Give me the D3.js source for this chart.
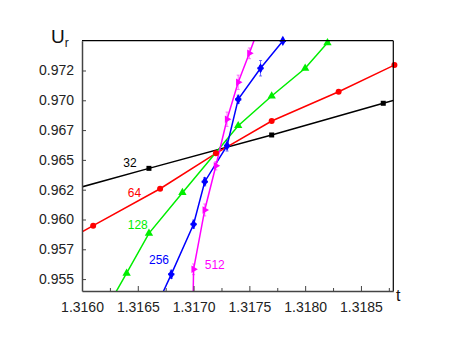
<!DOCTYPE html>
<html><head><meta charset="utf-8">
<script src="https://cdn.jsdelivr.net/npm/d3@7"></script>
<style>body{margin:0;background:#fff}svg{display:block}text{font-family:"Liberation Sans",Arial,sans-serif}</style>
</head><body>
<svg id="c" width="457" height="350"></svg>
<script>
// ---- data ----
const sizes = ["32", "64", "128", "256", "512"];
const colors = ["#000000", "#ff0000", "#00ee00", "#0000ff", "#ff00ff"];
const t32 = [1.3155, 1.31660, 1.31770, 1.31870, 1.3195];
const u32 = [0.96144, 0.96429, 0.96709, 0.96975, 0.97183];
const t64 = [1.3155, 1.31610, 1.31670, 1.31720, 1.31770, 1.31830, 1.31880];
const u64 = [0.95639, 0.95948, 0.96258, 0.96555, 0.96826, 0.97072, 0.97296];
const t128 = [1.3162, 1.31640, 1.31660, 1.31690, 1.31740, 1.31770, 1.31800, 1.31820, 1.3184];
const u128 = [0.95221, 0.95549, 0.95884, 0.96225, 0.96787, 0.97036, 0.97269, 0.97483, 0.9768];
const t256 = [1.3167, 1.31680, 1.31700, 1.31710, 1.31730, 1.31740, 1.31760, 1.31780, 1.3180];
const u256 = [0.95337, 0.95540, 0.95960, 0.96317, 0.96619, 0.97008, 0.97269, 0.97498, 0.9770];
const e256 = [0, 0.00035, 0.00035, 0.00035, 0.00045, 0.00035, 0.00065, 0, 0];
const t512 = [1.31699, 1.31700, 1.31710, 1.31720, 1.31730, 1.31740, 1.31750, 1.3176];
const u512 = [0.9500, 0.95582, 0.96080, 0.96451, 0.96841, 0.97151, 0.97394, 0.9765];
const e512 = [0, 0.00045, 0.0005, 0.00035, 0.0006, 0.0006, 0.00045, 0];
const xTicks = [1.3160, 1.3165, 1.3170, 1.3175, 1.3180, 1.3185];
const xTickLabels = ["1.3160", "1.3165", "1.3170", "1.3175", "1.3180", "1.3185"];
const xMinor = [1.31625, 1.31675, 1.31725, 1.31775, 1.31825, 1.31875];
const yTicks = [0.9550, 0.9575, 0.9600, 0.9625, 0.9650, 0.9675, 0.9700, 0.9725];
const yTickLabels = ["0.955", "0.957", "0.960", "0.962", "0.965", "0.967", "0.970", "0.972"];
const labelPos = [[1.31643, 0.96440], [1.31647, 0.96191], [1.31650, 0.95920], [1.31669, 0.95627], [1.31719, 0.95585]];

const series = [
  {t: t32, u: u32, e: null, sym: "square"},
  {t: t64, u: u64, e: null, sym: "circle"},
  {t: t128, u: u128, e: null, sym: "tri"},
  {t: t256, u: u256, e: e256, sym: "diamond"},
  {t: t512, u: u512, e: e512, sym: "right"}
];

// ---- layout ----
const L = 82, R = 393.3, T = 40.7, B = 291;
const svg = d3.select("#c");
const x = d3.scaleLinear().domain([1.3160, 1.31879]).range([L, R]);
const y = d3.scaleLinear().domain([0.954, 0.975]).range([B, T]);

svg.append("clipPath").attr("id", "clip").append("rect")
  .attr("x", L).attr("y", T).attr("width", R - L).attr("height", B - T);

const plot = svg.append("g").attr("clip-path", "url(#clip)");

const line = d3.line().x(d => x(d[0])).y(d => y(d[1]));

series.forEach((s, i) => {
  const pts = s.t.map((t, j) => [t, s.u[j], s.e ? s.e[j] : 0]);
  plot.append("path").datum(pts).attr("d", line)
    .attr("fill", "none").attr("stroke", colors[i]).attr("stroke-width", 1.5);
  const inside = pts.filter(p => p[0] >= 1.3160 && p[0] <= 1.31885 && p[1] >= 0.954 && p[1] <= 0.975);
  // error bars
  inside.filter(p => p[2] > 0).forEach(p => {
    const g = svg.append("g").attr("stroke", colors[i]).attr("stroke-width", 0.8).attr("opacity", 0.7);
    g.append("line").attr("x1", x(p[0])).attr("x2", x(p[0])).attr("y1", y(p[1] - p[2])).attr("y2", y(p[1] + p[2]));
    g.append("line").attr("x1", x(p[0]) - 1.5).attr("x2", x(p[0]) + 1.5).attr("y1", y(p[1] - p[2])).attr("y2", y(p[1] - p[2]));
    g.append("line").attr("x1", x(p[0]) - 1.5).attr("x2", x(p[0]) + 1.5).attr("y1", y(p[1] + p[2])).attr("y2", y(p[1] + p[2]));
  });
  const mk = svg.append("g").attr("fill", colors[i]);
  inside.forEach(p => {
    const cx = x(p[0]), cy = y(p[1]);
    if (s.sym === "square") {
      mk.append("rect").attr("x", cx - 2.5).attr("y", cy - 2.5).attr("width", 5).attr("height", 5);
    } else if (s.sym === "circle") {
      mk.append("circle").attr("cx", cx).attr("cy", cy).attr("r", 3);
    } else if (s.sym === "tri") {
      mk.append("path").attr("d", d3.symbol(d3.symbolTriangle, 30)()).attr("transform", `translate(${cx},${cy})`);
    } else if (s.sym === "diamond") {
      mk.append("path").attr("d", d3.symbol(d3.symbolDiamond, 30)()).attr("transform", `translate(${cx},${cy})`);
      mk.append("path").attr("d", d3.symbol(d3.symbolCross, 22)()).attr("transform", `translate(${cx},${cy})`);
    } else {
      mk.append("path").attr("d", d3.symbol(d3.symbolTriangle, 24)()).attr("transform", `translate(${cx},${cy}) rotate(90)`);
    }
  });
  svg.append("text").attr("x", x(labelPos[i][0])).attr("y", y(labelPos[i][1]))
    .attr("text-anchor", "middle").attr("font-size", 12).attr("fill", colors[i]).text(sizes[i]);
});

// ---- frame ----
svg.append("line").attr("x1", L).attr("x2", R).attr("y1", T).attr("y2", T).attr("stroke", "#000").attr("stroke-width", 1.2);
svg.append("line").attr("x1", R).attr("x2", R).attr("y1", T).attr("y2", B).attr("stroke", "#000").attr("stroke-width", 1.2);

// ---- axes ----
const xAxis = d3.axisBottom(x).tickValues(xTicks).tickFormat((d, i) => xTickLabels[i]).tickSizeInner(-5).tickSizeOuter(0).tickPadding(11);
const gx = svg.append("g").attr("transform", `translate(0,${B})`).call(xAxis);
gx.selectAll(".tick line").attr("stroke", "#444");
gx.select(".domain").attr("stroke", "#444").attr("stroke-width", 1.5);
gx.selectAll("text").attr("font-size", 14).attr("fill", "#222").attr("font-family", "Liberation Sans, Arial, sans-serif");
const gxm = svg.append("g").attr("transform", `translate(0,${B})`)
  .call(d3.axisBottom(x).tickValues(xMinor).tickFormat("").tickSizeInner(-3).tickSizeOuter(0));
gxm.select(".domain").remove();
gxm.selectAll(".tick line").attr("stroke", "#444");

const yAxis = d3.axisLeft(y).tickValues(yTicks).tickFormat((d, i) => yTickLabels[i]).tickSizeInner(-4).tickSizeOuter(0).tickPadding(8);
const gy = svg.append("g").attr("transform", `translate(${L},0)`).call(yAxis);
gy.selectAll(".tick line").attr("stroke", "#444");
gy.select(".domain").attr("stroke", "#444").attr("stroke-width", 1.5);
gy.selectAll("text").attr("font-size", 14).attr("fill", "#222").attr("font-family", "Liberation Sans, Arial, sans-serif");

// ---- titles ----
const yt = svg.append("text").attr("x", 51).attr("y", 43).attr("font-size", 19).attr("fill", "#111");
yt.append("tspan").text("U");
yt.append("tspan").attr("font-size", 12).attr("dy", 4).text("r");
svg.append("text").attr("x", 396).attr("y", 301).attr("font-size", 16).attr("fill", "#111").text("t");
</script>
</body></html>
